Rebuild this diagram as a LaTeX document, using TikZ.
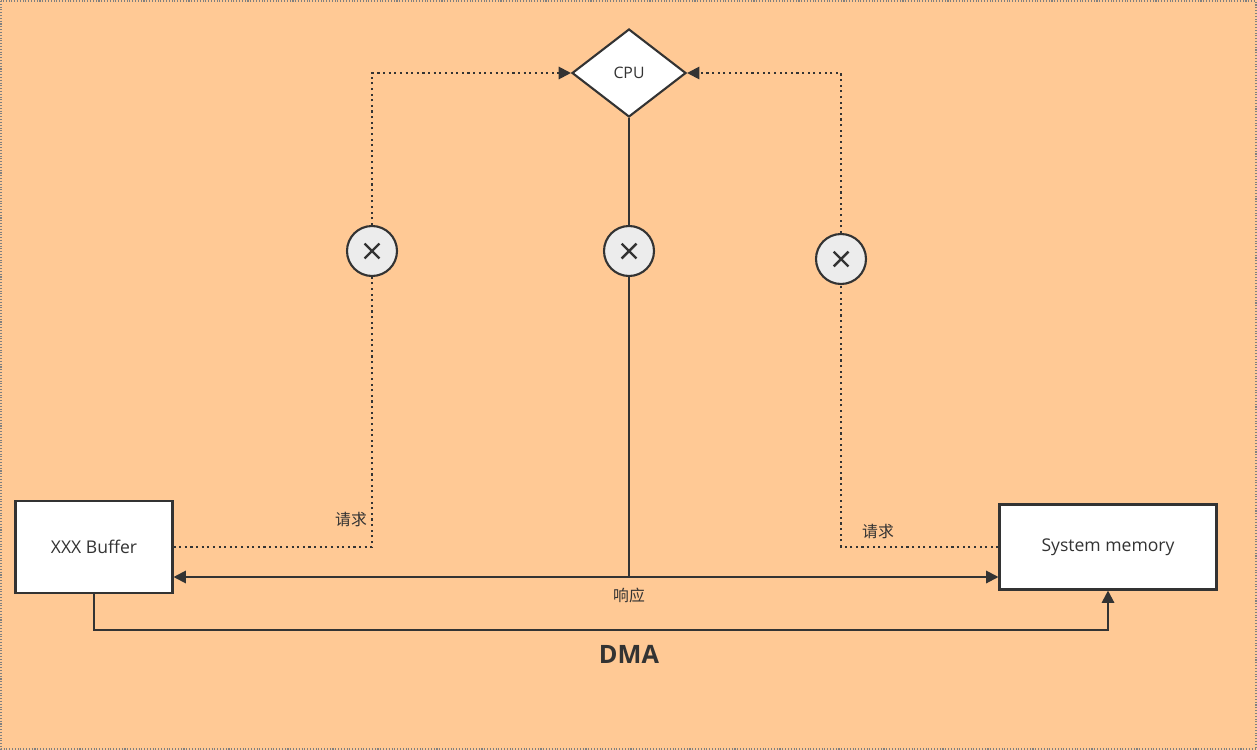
\documentclass[tikz,border=0pt]{standalone}
\usepackage{fontspec}
\setmainfont{Open Sans}
\newfontfamily\cjk{Noto Sans CJK SC}
\usetikzlibrary{shapes.geometric,arrows.meta}
\definecolor{bg}{HTML}{FFC995}
\definecolor{ln}{HTML}{333333}
\tikzset{
  every picture/.style={line width=1.2pt},
  box/.style={draw=ln,fill=white,minimum width=3.14cm,minimum height=1.84cm,inner sep=0pt,font=\normalsize},
  cross/.style={circle,draw=ln,fill=gray!15,minimum size=1cm,inner sep=0pt},
  req/.style={draw=ln,dotted,-{Triangle[length=7pt,width=7pt]}},
  resp/.style={draw=ln,-{Triangle[length=7pt,width=7pt]}},
  lbl/.style={text=ln,font=\cjk\small}
}
\begin{document}
\begin{tikzpicture}[x=0.02cm,y=-0.02cm]
\fill [bg] (0,0) rectangle (1257,750);
\draw [gray,densely dotted,line width=0.6pt] (1,1) rectangle (1256,749);
\node [diamond,draw=ln,fill=white,minimum width=2.28cm,minimum height=1.76cm,inner sep=0pt,aspect=1.3,text=ln,font=\small] (cpu) at (629,73) {CPU};
\node [box,text=ln] (buf) at (94,547) {XXX Buffer};
\node [box,text=ln,minimum width=4.34cm,minimum height=1.7cm] (mem) at (1108,547) {System memory};
\node [cross] (x1) at (372,251) {};
\node [cross] (x2) at (629,251) {};
\node [cross] (x3) at (841,259) {};
\foreach \n in {x1,x2,x3}
  \draw [ln,line width=1.4pt] ([shift={(-4.2pt,-4.2pt)}]\n.center) -- ([shift={(4.2pt,4.2pt)}]\n.center)
    ([shift={(-4.2pt,4.2pt)}]\n.center) -- ([shift={(4.2pt,-4.2pt)}]\n.center);
\coordinate (j) at (629,577);
% requests
\draw [req] (buf.east) -- (372,547) -- (x1) -- (372,73) -- (cpu.west);
\draw [req] (mem.west) -- (841,547) -- (x3) -- (841,73) -- (cpu.east);
% response
\draw [ln] (cpu.south) -- (x2) -- (j);
\draw [resp] (j) -- (buf.east |- j);
\draw [resp] (j) -- (mem.west |- j);
% dma
\draw [resp] (buf.south) -- (94,630) -- (1108,630) -- (mem.south);
\node [lbl] at (351,520) {请求};
\node [lbl] at (878,532) {请求};
\node [lbl] at (629,595) {响应};
\node [text=ln,font=\Large\bfseries] at (629,654) {DMA};
\end{tikzpicture}
\end{document}
